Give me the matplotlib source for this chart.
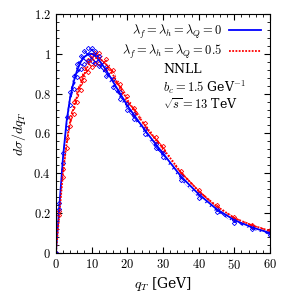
import matplotlib
matplotlib.use("Agg")
import matplotlib.pyplot as plt
from matplotlib.ticker import MultipleLocator

plt.rcParams['mathtext.fontset'] = 'cm'
plt.rcParams['font.family'] = 'serif'
plt.rcParams['font.serif'] = ['DejaVu Serif']
plt.rcParams['hatch.linewidth'] = 0.8

# ── Data ──────────────────────────────────────────────────
qT = [0, 1, 2, 3, 4, 5, 6, 7, 8, 9, 10, 11, 12, 14, 16, 18, 20, 22, 25, 28, 30,
      35, 40, 45, 50, 55, 60]

blue_c  = [0, 0.24, 0.48, 0.66, 0.78, 0.86, 0.92, 0.96, 0.985, 0.997, 1.0, 0.99,
           0.97, 0.92, 0.86, 0.80, 0.74, 0.69, 0.615, 0.545, 0.50, 0.385, 0.295,
           0.22, 0.165, 0.128, 0.10]
blue_hi = [0, 0.25, 0.50, 0.685, 0.81, 0.89, 0.95, 0.99, 1.015, 1.027, 1.03, 1.015,
           0.99, 0.935, 0.872, 0.81, 0.748, 0.696, 0.62, 0.549, 0.504, 0.388, 0.298,
           0.222, 0.167, 0.130, 0.102]
blue_lo = [0, 0.22, 0.45, 0.625, 0.745, 0.825, 0.885, 0.925, 0.95, 0.962, 0.965,
           0.955, 0.94, 0.89, 0.832, 0.775, 0.718, 0.67, 0.595, 0.525, 0.48, 0.365,
           0.277, 0.205, 0.152, 0.118, 0.09]

red_c  = [0, 0.2, 0.4, 0.55, 0.66, 0.73, 0.79, 0.85, 0.9, 0.94, 0.965, 0.978, 0.98,
          0.95, 0.895, 0.83, 0.77, 0.715, 0.64, 0.57, 0.525, 0.405, 0.31, 0.235,
          0.175, 0.138, 0.11]
red_hi = [0, 0.21, 0.42, 0.575, 0.685, 0.76, 0.82, 0.88, 0.93, 0.97, 0.995, 1.005,
          1.005, 0.975, 0.918, 0.85, 0.788, 0.73, 0.652, 0.58, 0.535, 0.413, 0.317,
          0.241, 0.180, 0.142, 0.114]
red_lo = [0, 0.19, 0.38, 0.525, 0.635, 0.70, 0.76, 0.82, 0.87, 0.91, 0.935, 0.95,
          0.955, 0.925, 0.872, 0.81, 0.752, 0.70, 0.628, 0.56, 0.515, 0.397, 0.303,
          0.229, 0.170, 0.134, 0.106]

labels = [r'$\lambda_f=\lambda_h=\lambda_Q=0$', r'$\lambda_f=\lambda_h=\lambda_Q=0.5$']
BLUE, RED = '#0000ff', '#ff0000'

# ── Plot ──────────────────────────────────────────────────
fig = plt.figure(figsize=(2.91, 2.91), dpi=100)
ax = fig.add_axes([0.192, 0.131, 0.736, 0.821])

for lo, hi, col in [(red_lo, red_hi, RED), (blue_lo, blue_hi, BLUE)]:
    ax.fill_between(qT, lo, hi, facecolor='none', edgecolor=col,
                    hatch='xxxx', linewidth=0)
    for band in (lo, hi):
        ax.plot(qT, band, ls='none', marker='D', ms=2.2, mfc='none',
                mec=col, mew=0.6)

ax.plot(qT, blue_c, color=BLUE, lw=1.3, label=labels[0])
ax.plot(qT, red_c, color=RED, lw=1.3, ls=(0, (1, 0.8)), label=labels[1])

ax.set_xlim(0, 60)
ax.set_ylim(0, 1.2)
ax.xaxis.set_minor_locator(MultipleLocator(2))
ax.yaxis.set_minor_locator(MultipleLocator(0.04))
xt = list(range(0, 61, 10))
ax.set_xticks(xt)
ax.set_xticklabels([f'${v}$' for v in xt])
yt = [0, 0.2, 0.4, 0.6, 0.8, 1.0, 1.2]
ax.set_yticks(yt)
ax.set_yticklabels([f'${v:g}$' for v in yt])
ax.tick_params(which='both', direction='in', top=True, right=True, labelsize=9)
ax.tick_params(which='major', length=4)
ax.tick_params(which='minor', length=2)

ax.set_xlabel(r'$q_T$ [GeV]', fontsize=10, labelpad=2)
ax.set_ylabel(r'$d\sigma/dq_T$', fontsize=10, labelpad=4)

ax.legend(loc='upper right', frameon=False, markerfirst=False, fontsize=9,
          handlelength=2.6, borderaxespad=0.3, labelspacing=0.2,
          handletextpad=0.5)

ax.text(0.5, 0.92, 'NNLL', fontsize=9, va='center',
        transform=ax.get_yaxis_transform())
ax.text(0.5, 0.83, r'$b_c=1.5$ GeV$^{-1}$', fontsize=9, va='center',
        transform=ax.get_yaxis_transform())
ax.text(0.5, 0.745, r'$\sqrt{s}=13$ TeV', fontsize=9, va='center',
        transform=ax.get_yaxis_transform())

fig.savefig('out.png', dpi=100)
